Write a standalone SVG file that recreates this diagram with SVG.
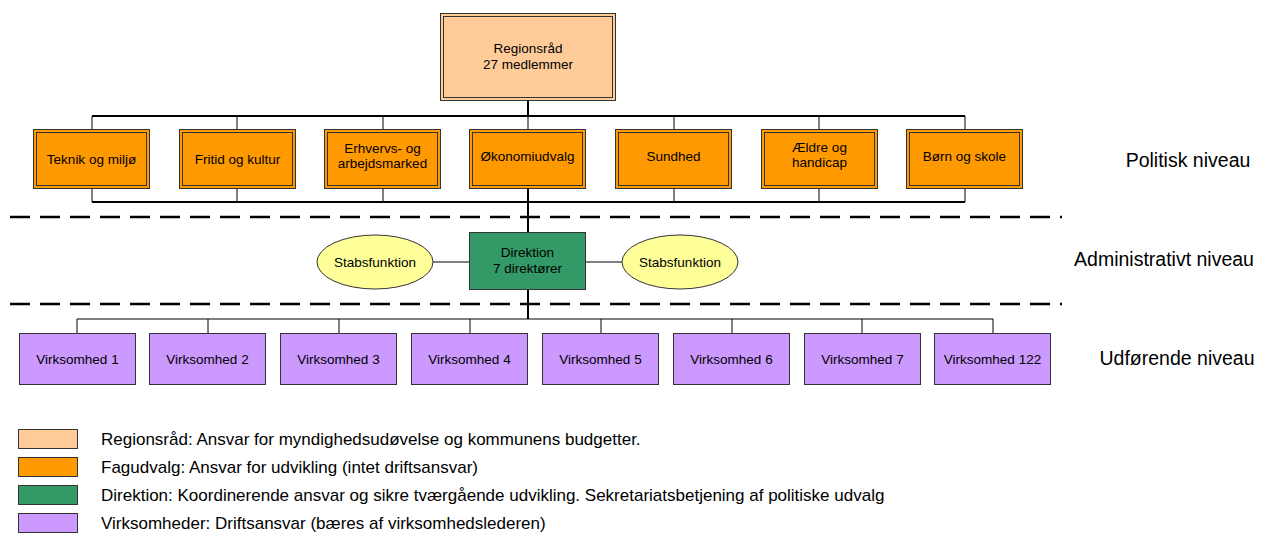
<svg xmlns="http://www.w3.org/2000/svg" width="1263" height="535" viewBox="0 0 1263 535">
<style>
text{font-family:"Liberation Sans",Arial,sans-serif;fill:#000}
.n{font-size:13.5px;text-anchor:middle}
.lv{font-size:19.5px;text-anchor:middle}
.lg{font-size:17px}
.c{stroke:#000;stroke-width:1;fill:none}
.c2{stroke:#000;stroke-width:2;fill:none}
.dash{stroke:#000;stroke-width:2.5;stroke-dasharray:20 10;fill:none}
.rr{fill:#FFCC99;stroke:#333;stroke-width:1}
.fu{fill:#FF9900;stroke:#333;stroke-width:1}
.in{fill:none;stroke:#333;stroke-width:1}
.dr{fill:#339966;stroke:#333;stroke-width:1}
.vk{fill:#CC99FF;stroke:#333;stroke-width:1}
.sf{fill:#FFFF99;stroke:#333;stroke-width:1}
</style>
<g id="connectors">
<line class="c2" x1="528" y1="101" x2="528" y2="116"/>
<line class="c2" x1="92" y1="116" x2="965" y2="116"/>
<line class="c" x1="92" y1="116" x2="92" y2="130"/>
<line class="c" x1="237" y1="116" x2="237" y2="130"/>
<line class="c" x1="383" y1="116" x2="383" y2="130"/>
<line class="c" x1="528" y1="116" x2="528" y2="130" stroke="#6f8fc0"/>
<line class="c" x1="674" y1="116" x2="674" y2="130"/>
<line class="c" x1="819" y1="116" x2="819" y2="130"/>
<line class="c" x1="965" y1="116" x2="965" y2="130"/>
<line class="c" x1="92" y1="189" x2="92" y2="202"/>
<line class="c" x1="237" y1="189" x2="237" y2="202"/>
<line class="c" x1="383" y1="189" x2="383" y2="202"/>
<line class="c" x1="674" y1="189" x2="674" y2="202"/>
<line class="c" x1="819" y1="189" x2="819" y2="202"/>
<line class="c" x1="965" y1="189" x2="965" y2="202"/>
<line class="c2" x1="92" y1="202" x2="965" y2="202"/>
<line class="c2" x1="528" y1="189" x2="528" y2="232"/>
<line class="c" x1="433" y1="262" x2="469" y2="262"/>
<line class="c" x1="586" y1="262" x2="622" y2="262"/>
<line class="c2" x1="528" y1="290" x2="528" y2="319"/>
<line class="c" x1="77" y1="319" x2="993" y2="319"/>
<line class="c" x1="77" y1="319" x2="77" y2="333"/>
<line class="c" x1="208" y1="319" x2="208" y2="333"/>
<line class="c" x1="339" y1="319" x2="339" y2="333"/>
<line class="c" x1="470" y1="319" x2="470" y2="333"/>
<line class="c" x1="601" y1="319" x2="601" y2="333"/>
<line class="c" x1="732" y1="319" x2="732" y2="333"/>
<line class="c" x1="862" y1="319" x2="862" y2="333"/>
<line class="c" x1="993" y1="319" x2="993" y2="333"/>
</g>
<g id="dividers">
<line class="dash" x1="10" y1="217" x2="1062" y2="217"/>
<line class="dash" x1="10" y1="304" x2="1062" y2="304"/>
</g>
<g id="regionsraad">
<rect class="rr" x="440.5" y="13.5" width="175" height="87"/>
<rect class="in" x="443.5" y="16.5" width="169" height="81"/>
<text class="n" x="528" y="53">Regionsråd</text>
<text class="n" x="528" y="69">27 medlemmer</text>
</g>
<g id="teknik">
<rect class="fu" x="33.5" y="129.5" width="116" height="59"/>
<rect class="in" x="36.5" y="132.5" width="110" height="53"/>
<text class="n" x="91.5" y="164">Teknik og miljø</text>
</g>
<g id="fritid">
<rect class="fu" x="179.5" y="129.5" width="116" height="59"/>
<rect class="in" x="182.5" y="132.5" width="110" height="53"/>
<text class="n" x="237.5" y="164">Fritid og kultur</text>
</g>
<g id="erhverv">
<rect class="fu" x="324.5" y="129.5" width="116" height="59"/>
<rect class="in" x="327.5" y="132.5" width="110" height="53"/>
<text class="n" x="382.5" y="153">Erhvervs- og</text>
<text class="n" x="382.5" y="168">arbejdsmarked</text>
</g>
<g id="oekonomi">
<rect class="fu" x="469.5" y="129.5" width="116" height="59"/>
<rect class="in" x="472.5" y="132.5" width="110" height="53"/>
<text class="n" x="527.5" y="161">Økonomiudvalg</text>
</g>
<g id="sundhed">
<rect class="fu" x="615.5" y="129.5" width="116" height="59"/>
<rect class="in" x="618.5" y="132.5" width="110" height="53"/>
<text class="n" x="673.5" y="161">Sundhed</text>
</g>
<g id="aeldre">
<rect class="fu" x="761.5" y="129.5" width="116" height="59"/>
<rect class="in" x="764.5" y="132.5" width="110" height="53"/>
<text class="n" x="819.5" y="152">Ældre og</text>
<text class="n" x="819.5" y="167">handicap</text>
</g>
<g id="boern">
<rect class="fu" x="906.5" y="129.5" width="116" height="59"/>
<rect class="in" x="909.5" y="132.5" width="110" height="53"/>
<text class="n" x="964.5" y="161">Børn og skole</text>
</g>
<g id="direktion">
<rect class="dr" x="469.5" y="232.5" width="116" height="57"/>
<text class="n" x="527.5" y="257">Direktion</text>
<text class="n" x="527.5" y="273">7 direktører</text>
</g>
<g id="stab1">
<ellipse class="sf" cx="375" cy="262" rx="58" ry="27"/>
<text class="n" x="375" y="267">Stabsfunktion</text>
</g>
<g id="stab2">
<ellipse class="sf" cx="680" cy="262" rx="58" ry="27"/>
<text class="n" x="680" y="267">Stabsfunktion</text>
</g>
<g id="v1"><rect class="vk" x="19.5" y="333.5" width="116" height="51"/><text class="n" x="77.5" y="364">Virksomhed 1</text></g>
<g id="v2"><rect class="vk" x="149.5" y="333.5" width="116" height="51"/><text class="n" x="207.5" y="364">Virksomhed 2</text></g>
<g id="v3"><rect class="vk" x="280.5" y="333.5" width="116" height="51"/><text class="n" x="338.5" y="364">Virksomhed 3</text></g>
<g id="v4"><rect class="vk" x="411.5" y="333.5" width="116" height="51"/><text class="n" x="469.5" y="364">Virksomhed 4</text></g>
<g id="v5"><rect class="vk" x="542.5" y="333.5" width="116" height="51"/><text class="n" x="600.5" y="364">Virksomhed 5</text></g>
<g id="v6"><rect class="vk" x="673.5" y="333.5" width="116" height="51"/><text class="n" x="731.5" y="364">Virksomhed 6</text></g>
<g id="v7"><rect class="vk" x="804.5" y="333.5" width="116" height="51"/><text class="n" x="862.5" y="364">Virksomhed 7</text></g>
<g id="v122"><rect class="vk" x="934.5" y="333.5" width="116" height="51"/><text class="n" x="992.5" y="364">Virksomhed 122</text></g>
<g id="levels">
<text class="lv" x="1188" y="167">Politisk niveau</text>
<text class="lv" x="1164" y="266">Administrativt niveau</text>
<text class="lv" x="1177" y="365">Udførende niveau</text>
</g>
<g id="legend">
<rect class="rr" x="18.5" y="429.5" width="59" height="19"/>
<text class="lg" x="101" y="445">Regionsråd: Ansvar for myndighedsudøvelse og kommunens budgetter.</text>
<rect class="fu" x="18.5" y="457.5" width="59" height="19"/>
<text class="lg" x="101" y="473">Fagudvalg: Ansvar for udvikling (intet driftsansvar)</text>
<rect class="dr" x="18.5" y="485.5" width="59" height="19"/>
<text class="lg" x="101" y="501">Direktion: Koordinerende ansvar og sikre tværgående udvikling. Sekretariatsbetjening af politiske udvalg</text>
<rect class="vk" x="18.5" y="513.5" width="59" height="19"/>
<text class="lg" x="101" y="529">Virksomheder: Driftsansvar (bæres af virksomhedslederen)</text>
</g>
</svg>
